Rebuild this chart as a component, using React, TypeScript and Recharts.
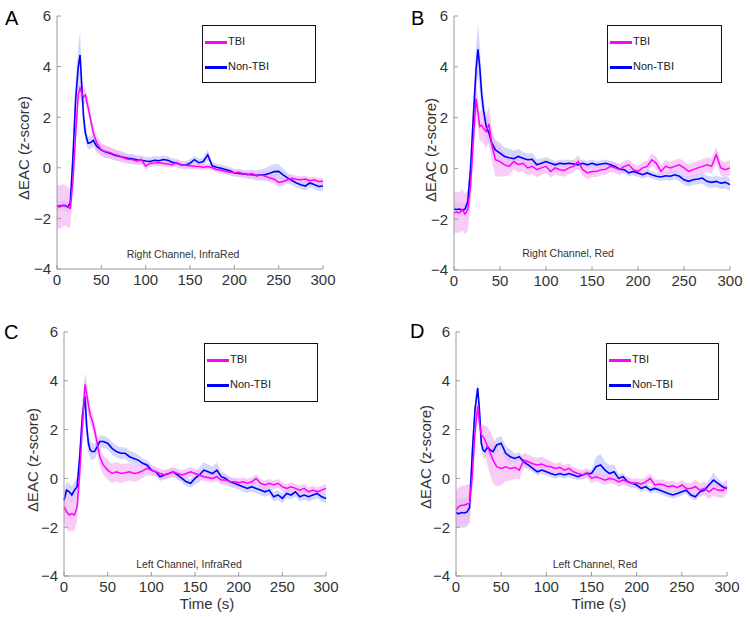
import React from "react";
import { ComposedChart, Line, Area, XAxis, YAxis } from "recharts";

// sample times (s), denser around the peak
const TIME = [0, 3, 6, 9, 12, 15, 18, 21, 24, 26, 28, 30, 32, 35, 38, 41, 45,
  50, 55, 60, 65, 70, 75, 80, 85, 90, 95,
  100, 105, 110, 115, 120, 125, 130, 135, 140, 145,
  150, 155, 160, 165, 170, 175, 180, 185, 190, 195,
  200, 205, 210, 215, 220, 225, 230, 235, 240, 245,
  250, 255, 260, 265, 270, 275, 280, 285, 290, 295, 300];

const X_TICKS = [0, 50, 100, 150, 200, 250, 300];
const Y_TICKS = [-4, -2, 0, 2, 4, 6];

// A: Right Channel, InfraRed
const A_TBI = [-1.53, -1.55, -1.5, -1.47, -1.55, -1.6, -0.5, 1.3, 2.9, 3.15, 2.95, 2.8, 2.88, 2.4, 1.9, 1.37, 0.97,
  0.71, 0.64, 0.6, 0.52, 0.48, 0.4, 0.34, 0.33, 0.26, 0.33,
  0.06, 0.18, 0.19, 0.21, 0.17, 0.15, 0.12, 0.21, 0.11, 0.1,
  0.08, 0.06, 0.05, 0.02, 0.05, 0.0, -0.07, -0.1, -0.14, -0.18,
  -0.2, -0.18, -0.24, -0.27, -0.23, -0.32, -0.28, -0.34, -0.4, -0.45,
  -0.58, -0.54, -0.47, -0.41, -0.45, -0.47, -0.44, -0.51, -0.47, -0.54, -0.53];
const A_TBI_ERR = [0.88, 0.85, 0.85, 0.8, 0.8, 0.75, 0.5, 0.4, 0.35, 0.35, 0.35, 0.3, 0.3, 0.3, 0.3, 0.3, 0.3,
  0.25, 0.25, 0.22, 0.22, 0.2, 0.2, 0.18, 0.18, 0.16, 0.16,
  0.15, 0.14, 0.14, 0.13, 0.13, 0.13, 0.12, 0.12, 0.12, 0.12,
  0.12, 0.12, 0.12, 0.12, 0.12, 0.12, 0.12, 0.12, 0.12, 0.12,
  0.13, 0.13, 0.13, 0.14, 0.14, 0.15, 0.15, 0.16, 0.17, 0.18,
  0.18, 0.18, 0.16, 0.15, 0.14, 0.14, 0.13, 0.13, 0.13, 0.13, 0.13];
const A_NT = [-1.5, -1.52, -1.48, -1.5, -1.55, -1.4, 0.45, 2.7, 4.0, 4.46, 3.2, 2.0, 1.37, 0.97, 1.0, 1.08, 0.84,
  0.7, 0.62, 0.57, 0.5, 0.46, 0.42, 0.38, 0.36, 0.32, 0.3,
  0.27, 0.25, 0.3, 0.28, 0.33, 0.3, 0.22, 0.18, 0.12, 0.1,
  0.18, 0.32, 0.2, 0.25, 0.51, 0.08, 0.02, -0.02, -0.07, -0.12,
  -0.2, -0.22, -0.24, -0.26, -0.27, -0.3, -0.28, -0.27, -0.22, -0.15,
  -0.14, -0.28, -0.4, -0.5, -0.6, -0.67, -0.72, -0.6, -0.66, -0.74, -0.72];
const A_NT_ERR = [0.2, 0.2, 0.2, 0.2, 0.2, 0.25, 0.5, 0.7, 0.85, 0.9, 0.7, 0.5, 0.3, 0.25, 0.25, 0.25, 0.25,
  0.22, 0.22, 0.2, 0.2, 0.2, 0.2, 0.18, 0.18, 0.18, 0.18,
  0.17, 0.17, 0.17, 0.16, 0.16, 0.16, 0.16, 0.16, 0.16, 0.16,
  0.16, 0.16, 0.16, 0.16, 0.2, 0.16, 0.15, 0.15, 0.15, 0.15,
  0.15, 0.15, 0.15, 0.16, 0.18, 0.2, 0.22, 0.25, 0.3, 0.3,
  0.28, 0.25, 0.2, 0.18, 0.18, 0.18, 0.18, 0.18, 0.18, 0.18, 0.18];

// B: Right Channel, Red
const B_TBI = [-1.75, -1.72, -1.75, -1.62, -1.8, -1.62, -0.7, 1.1, 2.75, 2.2, 1.65, 1.7, 1.58, 1.45, 1.75, 0.95, 0.34,
  0.27, 0.14, 0.08, 0.27, 0.15, 0.2, 0.02, 0.08, -0.05, 0.02,
  0.08, -0.12, 0.02, -0.05, -0.08, 0.02, 0.08, 0.27, -0.05, -0.18,
  -0.12, -0.12, -0.05, -0.03, 0.08, 0.02, -0.05, 0.08, 0.14, -0.05,
  -0.12, 0.02, 0.08, 0.34, 0.2, -0.12, 0.08, 0.02, 0.08, 0.14,
  0.02, -0.12, -0.05, 0.02, 0.08, 0.14, 0.08, 0.54, 0.02, -0.05, 0.02];
const B_TBI_ERR = [0.8, 0.8, 0.8, 0.8, 0.8, 0.8, 0.7, 0.7, 0.6, 0.6, 0.6, 0.6, 0.6, 0.65, 0.7, 0.65, 0.65,
  0.6, 0.45, 0.35, 0.3, 0.3, 0.3, 0.3, 0.3, 0.3, 0.28,
  0.25, 0.25, 0.25, 0.25, 0.25, 0.25, 0.25, 0.25, 0.25, 0.25,
  0.22, 0.22, 0.22, 0.22, 0.22, 0.22, 0.22, 0.22, 0.22, 0.22,
  0.22, 0.22, 0.22, 0.25, 0.25, 0.25, 0.25, 0.25, 0.25, 0.25,
  0.27, 0.27, 0.28, 0.28, 0.28, 0.3, 0.3, 0.3, 0.3, 0.3, 0.3];
const B_NT = [-1.6, -1.62, -1.6, -1.65, -1.6, -1.3, 0.0, 2.0, 3.9, 4.69, 4.0, 2.96, 2.3, 1.65, 1.39, 1.0, 0.73,
  0.6, 0.47, 0.42, 0.38, 0.47, 0.4, 0.34, 0.36, 0.14, 0.2,
  0.27, 0.2, 0.14, 0.2, 0.18, 0.2, 0.17, 0.14, 0.2, 0.14,
  0.2, 0.14, 0.17, 0.2, 0.14, 0.08, -0.03, -0.05, -0.18, -0.12,
  -0.18, -0.25, -0.18, -0.25, -0.31, -0.34, -0.29, -0.31, -0.25, -0.31,
  -0.45, -0.51, -0.45, -0.42, -0.38, -0.51, -0.55, -0.51, -0.58, -0.55, -0.64];
const B_NT_ERR = [0.25, 0.25, 0.25, 0.25, 0.25, 0.35, 0.6, 0.8, 0.9, 1.0, 0.9, 0.7, 0.5, 0.45, 0.45, 0.4, 0.4,
  0.4, 0.35, 0.35, 0.32, 0.3, 0.25, 0.25, 0.25, 0.22, 0.2,
  0.18, 0.16, 0.15, 0.15, 0.15, 0.15, 0.15, 0.15, 0.15, 0.15,
  0.15, 0.15, 0.15, 0.15, 0.15, 0.15, 0.15, 0.15, 0.15, 0.15,
  0.15, 0.15, 0.15, 0.15, 0.15, 0.16, 0.17, 0.18, 0.18, 0.2,
  0.2, 0.2, 0.2, 0.2, 0.22, 0.22, 0.22, 0.22, 0.24, 0.24, 0.25];

// C: Left Channel, InfraRed
const C_TBI = [-1.16, -1.37, -1.5, -1.44, -1.5, -1.16, 0.2, 2.12, 3.85, 3.45, 3.0, 2.6, 2.4, 1.99, 1.44, 0.89, 0.55,
  0.34, 0.2, 0.27, 0.2, 0.23, 0.27, 0.2, 0.23, 0.31, 0.41,
  0.34, 0.27, 0.2, 0.14, 0.2, 0.27, 0.2, 0.14, 0.2, 0.27,
  0.2, 0.14, 0.07, 0.04, 0.0, 0.07, -0.07, -0.07, -0.14, -0.14,
  -0.18, -0.14, -0.2, -0.14, 0.0, -0.2, -0.27, -0.2, -0.27, -0.2,
  -0.34, -0.41, -0.34, -0.41, -0.48, -0.41, -0.55, -0.48, -0.55, -0.48, -0.41];
const C_TBI_ERR = [0.65, 0.7, 0.7, 0.7, 0.65, 0.6, 0.5, 0.5, 0.5, 0.5, 0.4, 0.35, 0.35, 0.35, 0.35, 0.38, 0.4,
  0.4, 0.4, 0.4, 0.4, 0.38, 0.35, 0.35, 0.32, 0.3, 0.28,
  0.22, 0.2, 0.2, 0.2, 0.2, 0.2, 0.2, 0.2, 0.2, 0.2,
  0.2, 0.18, 0.18, 0.18, 0.18, 0.18, 0.18, 0.18, 0.18, 0.18,
  0.18, 0.18, 0.18, 0.18, 0.18, 0.18, 0.18, 0.18, 0.18, 0.18,
  0.18, 0.18, 0.18, 0.18, 0.18, 0.18, 0.18, 0.18, 0.18, 0.18, 0.18];
const C_NT = [-0.9, -0.48, -0.55, -0.68, -0.48, -0.34, 0.89, 2.53, 3.36, 2.12, 1.44, 1.16, 1.1, 1.1, 1.3, 1.51, 1.51,
  1.44, 1.23, 1.1, 1.03, 1.03, 0.89, 0.82, 0.75, 0.62, 0.55,
  0.34, 0.27, 0.07, 0.14, 0.2, 0.27, 0.14, 0.0, -0.14, -0.2,
  0.0, 0.14, 0.34, 0.27, 0.2, 0.34, 0.07, 0.0, -0.14, -0.2,
  -0.27, -0.34, -0.41, -0.34, -0.41, -0.48, -0.55, -0.48, -0.75, -0.68,
  -0.82, -0.62, -0.68, -0.55, -0.75, -0.68, -0.75, -0.68, -0.62, -0.75, -0.82];
const C_NT_ERR = [0.35, 0.35, 0.35, 0.35, 0.35, 0.4, 0.6, 0.7, 0.8, 0.6, 0.4, 0.35, 0.35, 0.3, 0.28, 0.25, 0.25,
  0.25, 0.25, 0.25, 0.25, 0.25, 0.25, 0.25, 0.22, 0.2, 0.2,
  0.18, 0.18, 0.18, 0.18, 0.18, 0.18, 0.18, 0.18, 0.18, 0.18,
  0.25, 0.3, 0.32, 0.3, 0.28, 0.3, 0.22, 0.2, 0.2, 0.2,
  0.2, 0.2, 0.2, 0.2, 0.2, 0.2, 0.2, 0.2, 0.2, 0.2,
  0.2, 0.2, 0.2, 0.2, 0.2, 0.2, 0.2, 0.2, 0.2, 0.2, 0.2];

// D: Left Channel, Red
const D_TBI = [-1.3, -1.16, -1.1, -1.1, -1.05, -1.03, 0.07, 1.85, 2.95, 2.26, 1.78, 1.71, 1.58, 1.3, 1.03, 0.75, 0.48,
  0.41, 0.48, 0.4, 0.45, 0.34, 0.75, 0.68, 0.6, 0.55, 0.59,
  0.5, 0.48, 0.41, 0.45, 0.34, 0.41, 0.27, 0.2, 0.14, 0.23,
  0.0, 0.07, 0.0, -0.07, 0.0, -0.04, -0.14, -0.07, -0.14, -0.2,
  -0.18, -0.23, -0.14, 0.0, -0.27, -0.23, -0.27, -0.34, -0.3, -0.38,
  -0.27, -0.41, -0.41, -0.34, -0.48, -0.41, -0.55, -0.41, -0.48, -0.5, -0.34];
const D_TBI_ERR = [0.8, 0.8, 0.8, 0.8, 0.8, 0.8, 0.6, 0.4, 0.3, 0.35, 0.4, 0.5, 0.6, 0.8, 0.9, 0.95, 0.8,
  0.7, 0.6, 0.5, 0.45, 0.4, 0.3, 0.3, 0.3, 0.3, 0.3,
  0.3, 0.22, 0.2, 0.2, 0.2, 0.2, 0.2, 0.2, 0.2, 0.2,
  0.2, 0.2, 0.2, 0.2, 0.2, 0.2, 0.2, 0.2, 0.2, 0.2,
  0.2, 0.2, 0.2, 0.2, 0.2, 0.2, 0.2, 0.2, 0.2, 0.2,
  0.2, 0.22, 0.22, 0.28, 0.28, 0.28, 0.3, 0.3, 0.3, 0.3, 0.28];
const D_NT = [-1.4, -1.45, -1.4, -1.42, -1.38, -1.2, 1.03, 2.8, 3.7, 2.8, 1.44, 1.16, 1.1, 1.3, 1.16, 1.1, 1.37,
  1.44, 1.03, 0.89, 0.82, 0.89, 0.68, 0.55, 0.41, 0.27, 0.34,
  0.27, 0.2, 0.14, 0.2, 0.14, 0.2, 0.14, 0.07, 0.14, 0.2,
  0.2, 0.48, 0.55, 0.34, 0.2, 0.27, 0.0, 0.07, -0.14, -0.2,
  -0.27, -0.41, -0.34, -0.48, -0.41, -0.48, -0.55, -0.62, -0.68, -0.62,
  -0.55, -0.48, -0.68, -0.75, -0.55, -0.48, -0.27, -0.07, -0.2, -0.34, -0.41];
const D_NT_ERR = [0.6, 0.6, 0.6, 0.6, 0.6, 0.6, 0.6, 0.35, 0.25, 0.3, 0.3, 0.3, 0.3, 0.3, 0.3, 0.3, 0.3,
  0.3, 0.3, 0.3, 0.2, 0.18, 0.15, 0.15, 0.15, 0.15, 0.15,
  0.15, 0.15, 0.15, 0.15, 0.15, 0.15, 0.15, 0.15, 0.15, 0.15,
  0.15, 0.4, 0.45, 0.35, 0.35, 0.3, 0.15, 0.15, 0.15, 0.15,
  0.15, 0.15, 0.15, 0.15, 0.15, 0.15, 0.15, 0.15, 0.15, 0.15,
  0.15, 0.15, 0.15, 0.15, 0.15, 0.15, 0.2, 0.3, 0.2, 0.15, 0.15];

const PANELS = [
  {
    letter: "A", title: "Right Channel, InfraRed", left: 0, top: 0, w: 340, h: 300,
    margin: { top: 16, right: 17, bottom: 6, left: 27 },
    letterPos: [5, 25], ylab: [29, 148], sub: [183, 258], legend: [202, 25, 114, 58], time: null,
    tbi: A_TBI, tbiErr: A_TBI_ERR, nt: A_NT, ntErr: A_NT_ERR,
  },
  {
    letter: "B", title: "Right Channel, Red", left: 374, top: 0, w: 374, h: 300,
    margin: { top: 16, right: 18, bottom: 5, left: 50 },
    letterPos: [37, 25], ylab: [62, 150], sub: [194, 257], legend: [233, 25, 115, 58], time: null,
    tbi: B_TBI, tbiErr: B_TBI_ERR, nt: B_NT, ntErr: B_NT_ERR,
  },
  {
    letter: "C", title: "Left Channel, InfraRed", left: 0, top: 300, w: 340, h: 317,
    margin: { top: 32, right: 14, bottom: 16, left: 34 },
    letterPos: [4, 39], ylab: [38, 160], sub: [189, 268], legend: [204, 43, 114, 59], time: [207, 309],
    tbi: C_TBI, tbiErr: C_TBI_ERR, nt: C_NT, ntErr: C_NT_ERR,
  },
  {
    letter: "D", title: "Left Channel, Red", left: 374, top: 300, w: 374, h: 317,
    margin: { top: 32, right: 21, bottom: 16, left: 52 },
    letterPos: [36, 38], ylab: [57, 157], sub: [221, 268], legend: [232, 43, 113, 57], time: [225, 309],
    tbi: D_TBI, tbiErr: D_TBI_ERR, nt: D_NT, ntErr: D_NT_ERR,
  },
];

const PINK = "#ff00ff";
const BLUE = "#0000ff";
const AXIS = "#9a9a9a";

const fmt = (v: number) => (v < 0 ? "\u2212" + Math.abs(v) : String(v));

const Panel = ({ p }: { p: any }) => {
  const rows = TIME.map((t, i) => ({
    t,
    tm: p.tbi[i],
    tb: [p.tbi[i] - p.tbiErr[i], p.tbi[i] + p.tbiErr[i]],
    nm: p.nt[i],
    nb: [p.nt[i] - p.ntErr[i], p.nt[i] + p.ntErr[i]],
  }));
  const [lx, ly, lw, lh] = p.legend;
  return (
    <div style={{ position: "absolute", left: p.left, top: p.top, width: p.w, height: p.h }}>
      <ComposedChart width={p.w} height={p.h} data={rows} margin={p.margin}>
        <XAxis dataKey="t" type="number" domain={[0, 300]} ticks={X_TICKS} interval={0} height={25}
          tickSize={-4} tickMargin={9} stroke={AXIS} tick={{ fill: "#333", fontSize: 15 }} />
        <XAxis xAxisId="top" orientation="top" dataKey="t" type="number" domain={[0, 300]} ticks={X_TICKS}
          height={0} tickSize={-4} tick={false} stroke={AXIS} />
        <YAxis type="number" domain={[-4, 6]} ticks={Y_TICKS} interval={0} width={30} allowDataOverflow
          tickSize={-4} tickMargin={10} stroke={AXIS} tick={{ fill: "#333", fontSize: 15 }} tickFormatter={fmt} />
        <YAxis yAxisId="r" orientation="right" type="number" domain={[-4, 6]} ticks={Y_TICKS} width={0}
          tickSize={-4} tick={false} stroke={AXIS} />
        <Area dataKey="nb" type="linear" stroke="none" fill="#3a4cf0" fillOpacity={0.22} isAnimationActive={false} activeDot={false} />
        <Line dataKey="nm" type="linear" stroke={BLUE} strokeWidth={1.6} dot={false} isAnimationActive={false} />
        <Area dataKey="tb" type="linear" stroke="none" fill="#f5b8f2" fillOpacity={0.72} isAnimationActive={false} activeDot={false} />
        <Line dataKey="tm" type="linear" stroke={PINK} strokeWidth={1.5} dot={false} isAnimationActive={false} />
      </ComposedChart>
      <svg width={p.w} height={p.h} style={{ position: "absolute", left: 0, top: 0, pointerEvents: "none" }}>
        <text x={p.letterPos[0]} y={p.letterPos[1]} fontSize={20} fill="#000">{p.letter}</text>
        <text x={p.ylab[0]} y={p.ylab[1]} fontSize={15} fill="#333" textAnchor="middle"
          transform={`rotate(-90 ${p.ylab[0]} ${p.ylab[1]})`}>ΔEAC (z-score)</text>
        <text x={p.sub[0]} y={p.sub[1]} fontSize={10.5} fill="#333" textAnchor="middle">{p.title}</text>
        {p.time && (
          <text x={p.time[0]} y={p.time[1]} fontSize={15} fill="#333" textAnchor="middle">Time (s)</text>
        )}
      </svg>
      <div style={{
        position: "absolute", left: lx, top: ly, width: lw, height: lh, boxSizing: "border-box",
        border: "1.5px solid #111", background: "#fff", fontSize: 11, color: "#222",
      }}>
        <div style={{ position: "absolute", left: 2, top: 15, width: 22, height: 2.5, background: PINK }} />
        <div style={{ position: "absolute", left: 25, top: 9 }}>TBI</div>
        <div style={{ position: "absolute", left: 2, top: 40, width: 22, height: 2.5, background: BLUE }} />
        <div style={{ position: "absolute", left: 25, top: 34 }}>Non-TBI</div>
      </div>
    </div>
  );
};

export default function App() {
  return (
    <div style={{
      position: "absolute", left: 0, top: 0, width: 748, height: 617, background: "#fff",
      fontFamily: "'Liberation Sans', Arial, Helvetica, sans-serif",
    }}>
      {PANELS.map((p) => (
        <Panel key={p.letter} p={p} />
      ))}
    </div>
  );
}
